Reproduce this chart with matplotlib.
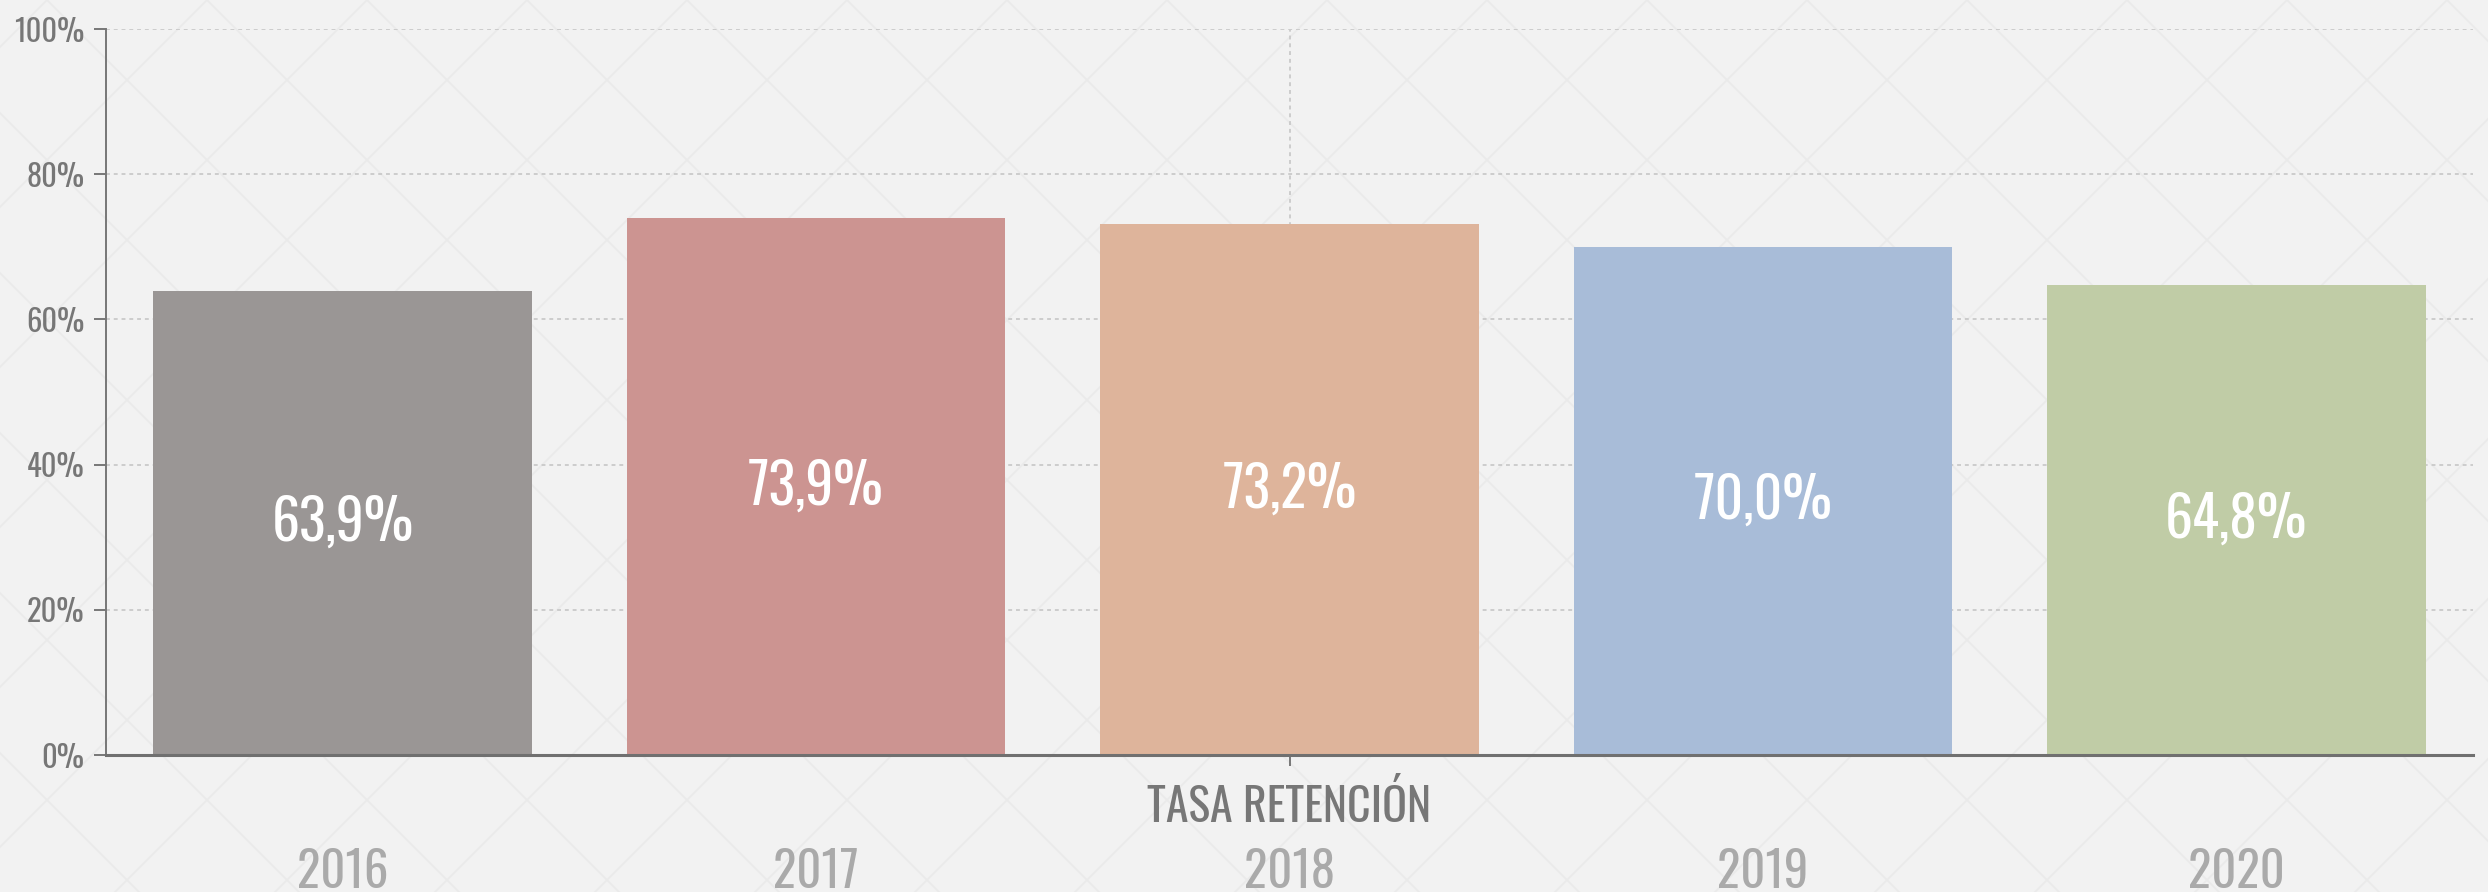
import matplotlib
matplotlib.use("Agg")
import matplotlib.pyplot as plt
from matplotlib.ticker import FuncFormatter

# ---- data ----
years = ["2016", "2017", "2018", "2019", "2020"]
retention = [63.9, 73.9, 73.2, 70.0, 64.8]
bar_colors = ["#9a9695", "#cc9491", "#deb49b", "#a8bcd8", "#c0cca6"]
category = "TASA RETENCIÓN"
y_ticks = [0, 20, 40, 60, 80, 100]

plt.rcParams["font.family"] = ["Oswald", "Antonio", "Barlow Condensed", "DejaVu Sans"]

W, H, DPI = 2488, 892, 100
fig = plt.figure(figsize=(W / DPI, H / DPI), dpi=DPI, facecolor="#f2f2f2")

# ---- faint diamond pattern behind everything ----
bg = fig.add_axes([0, 0, 1, 1], zorder=-10)
bg.set_xlim(0, W)
bg.set_ylim(H, 0)
bg.axis("off")
step = 160
off = 2447 % step
for c in range(-3200, 6000, step):
    bg.plot([c + off, c + off + 3000], [0, 3000], color="#eaeaea", lw=1.2)
    bg.plot([c + off, c + off - 3000], [0, 3000], color="#eaeaea", lw=1.2)

ax = fig.add_axes([106 / W, 1 - 755 / H, (2473 - 106) / W, (755 - 29) / H])
ax.set_facecolor("none")

x = list(range(len(years)))
ax.bar(x, retention, width=0.8, color=bar_colors, zorder=3)

for xi, v in zip(x, retention):
    ax.text(xi, v / 2, f"{v:.1f}%".replace(".", ","), ha="center", va="center",
            color="white", fontsize=40, zorder=4)

ax.set_xlim(-0.5, 4.5)
ax.set_ylim(0, 100)
ax.set_yticks(y_ticks)
ax.yaxis.set_major_formatter(FuncFormatter(lambda v, _: f"{v:.0f}%"))
ax.tick_params(axis="y", length=8.5, width=1.4, color="#777777", labelcolor="#777777",
               labelsize=22, pad=7)

ax.set_xticks([2])
ax.set_xticklabels([""])
ax.tick_params(axis="x", length=8, width=1.4, color="#777777")

ax.grid(True, color="#cccccc", linewidth=1.4, linestyle=(0, (2, 2)), zorder=1)

for s in ["top", "right"]:
    ax.spines[s].set_visible(False)
ax.spines["left"].set_color("#777777")
ax.spines["left"].set_linewidth(1.4)
ax.spines["bottom"].set_color("#707070")
ax.spines["bottom"].set_linewidth(2.2)
ax.spines["bottom"].set_zorder(5)

trans = ax.get_xaxis_transform()
ax.text(2, -0.0923, category, transform=trans, ha="center", va="baseline",
        color="#777777", fontsize=33)
for xi, yr in zip(x, years):
    ax.text(xi, -0.183, yr, transform=trans, ha="center", va="baseline",
            color="#aaaaaa", fontsize=35)

fig.savefig("out.png", dpi=DPI, facecolor=fig.get_facecolor())
